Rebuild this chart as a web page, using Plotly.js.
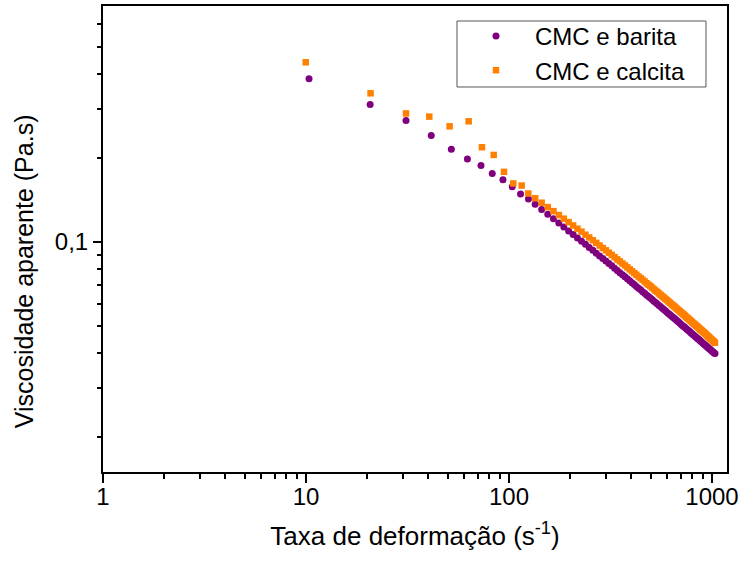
<!DOCTYPE html>
<html>
<head>
<meta charset="utf-8">
<script src="https://cdn.plot.ly/plotly-3.0.1.min.js"></script>
<style>html,body{margin:0;padding:0;background:#fff;}#chart{width:743px;height:564px;}</style>
</head>
<body>
<div id="chart"></div>
<script>
// Shear rate (s^-1) for the first, well-separated points of each series
var xBaritaStart = [10.35, 20.7, 31.1, 41.4, 52.0, 62.4, 72.8, 82.7, 93.4, 103.8, 114.0, 124.7];
var xCalcitaStart = [9.97, 20.8, 31.1, 40.5, 51.0, 63.3, 73.6, 84.1, 94.5, 105.0, 115.5, 124.5];
// Shear rate for the dense part (shared by both series)
var xDense = [134.6, 144.9, 155.3, 165.6, 176.0, 186.3, 196.7, 207.0, 217.4, 227.7, 238.1, 248.4,
  258.8, 269.1, 279.5, 289.8, 300.2, 310.5, 320.9, 331.2, 341.6, 351.9, 362.3, 372.6, 383.0, 393.3,
  403.7, 414.0, 424.4, 434.7, 445.1, 455.4, 465.8, 476.1, 486.5, 496.8, 507.2, 517.5, 527.9, 538.2,
  548.6, 558.9, 569.3, 579.6, 590.0, 600.3, 610.7, 621.0, 631.4, 641.7, 652.1, 662.4, 672.8, 683.1,
  693.5, 703.8, 714.2, 724.5, 734.9, 745.2, 755.6, 765.9, 776.3, 786.6, 797.0, 807.3, 817.7, 828.0,
  838.4, 848.7, 859.1, 869.4, 879.8, 890.1, 900.5, 910.8, 921.2, 931.5, 941.9, 952.2, 962.6, 972.9,
  983.3, 993.6, 1004.0, 1014.3, 1024.7, 1035.0];

// Apparent viscosity (Pa.s)
var yBarita = [0.383, 0.310, 0.2715, 0.240, 0.2144, 0.198, 0.1877, 0.1757, 0.1668, 0.1574, 0.1483, 0.1422,
  0.1362, 0.1306, 0.1255, 0.1209, 0.1168, 0.1129, 0.1094, 0.1062, 0.1032, 0.1005, 0.0979, 0.0955,
  0.0932, 0.0910, 0.0890, 0.0871, 0.0853, 0.0836, 0.0820, 0.0804, 0.0790, 0.0775, 0.0762, 0.0749,
  0.0737, 0.0725, 0.0714, 0.0703, 0.0692, 0.0682, 0.0673, 0.0663, 0.0654, 0.0645, 0.0637, 0.0629,
  0.0621, 0.0613, 0.0606, 0.0599, 0.0592, 0.0585, 0.0578, 0.0572, 0.0566, 0.0560, 0.0554, 0.0548,
  0.0543, 0.0537, 0.0532, 0.0527, 0.0522, 0.0517, 0.0512, 0.0507, 0.0502, 0.0498, 0.0494, 0.0489,
  0.0485, 0.0481, 0.0477, 0.0473, 0.0469, 0.0465, 0.0462, 0.0458, 0.0454, 0.0451, 0.0448, 0.0444,
  0.0441, 0.0438, 0.0434, 0.0431, 0.0428, 0.0425, 0.0422, 0.0419, 0.0416, 0.0414, 0.0411, 0.0408,
  0.0405, 0.0403, 0.0400, 0.0398];
var yCalcita = [0.439, 0.340, 0.288, 0.2806, 0.259, 0.270, 0.218, 0.2046, 0.178, 0.1618, 0.1590, 0.1489,
  0.1432, 0.1380, 0.1331, 0.1288, 0.1247, 0.1210, 0.1176, 0.1144, 0.1114, 0.1087, 0.1060, 0.1036,
  0.1013, 0.0991, 0.0970, 0.0950, 0.0932, 0.0914, 0.0897, 0.0881, 0.0865, 0.0851, 0.0836, 0.0823,
  0.0810, 0.0797, 0.0785, 0.0773, 0.0762, 0.0751, 0.0741, 0.0731, 0.0721, 0.0711, 0.0702, 0.0694,
  0.0685, 0.0676, 0.0668, 0.0661, 0.0653, 0.0645, 0.0638, 0.0631, 0.0624, 0.0618, 0.0611, 0.0605,
  0.0598, 0.0592, 0.0587, 0.0581, 0.0575, 0.0570, 0.0564, 0.0559, 0.0554, 0.0549, 0.0544, 0.0539,
  0.0534, 0.0530, 0.0525, 0.0521, 0.0516, 0.0512, 0.0508, 0.0504, 0.0500, 0.0496, 0.0492, 0.0488,
  0.0484, 0.0481, 0.0477, 0.0474, 0.0470, 0.0467, 0.0463, 0.0460, 0.0457, 0.0453, 0.0450, 0.0447,
  0.0444, 0.0441, 0.0438, 0.0435];

var seriesNames = ['CMC e barita', 'CMC e calcita'];
var xTitle = 'Taxa de deformação (s<sup>-1</sup>)';
var yTitle = 'Viscosidade aparente (Pa.s)';

var FONT = 'Liberation Sans, Arial, sans-serif';
var X_RANGE = [0, 3.074];
var Y_RANGE = [-1.824, -0.156];

var traces = [
  {
    x: xBaritaStart.concat(xDense), y: yBarita, name: seriesNames[0],
    type: 'scatter', mode: 'markers',
    marker: {symbol: 'circle', size: 7, color: '#7F007F'}
  },
  {
    x: xCalcitaStart.concat(xDense), y: yCalcita, name: seriesNames[1],
    type: 'scatter', mode: 'markers',
    marker: {symbol: 'square', size: 6.5, color: '#FF8000'}
  }
];

var layout = {
  width: 743, height: 564,
  margin: {l: 103, r: 16, t: 6, b: 92, pad: 0},
  paper_bgcolor: '#ffffff', plot_bgcolor: '#ffffff',
  separators: ',.',
  font: {family: FONT, color: '#000', size: 24},
  showlegend: true,
  legend: {
    x: 0.5673, y: 0.983, xanchor: 'left', yanchor: 'top',
    bgcolor: 'rgba(0,0,0,0)', borderwidth: 0,
    font: {family: FONT, size: 24, color: '#000'},
    itemwidth: 68, tracegroupgap: 0
  },
  shapes: [
    {type: 'rect', xref: 'paper', yref: 'paper', layer: 'below',
     x0: 0.5673, x1: 0.9663, y0: 0.8262, y1: 0.9678,
     line: {color: '#555555', width: 1}, fillcolor: '#ffffff'}
  ],
  xaxis: {
    type: 'log', range: X_RANGE, autorange: false,
    tickmode: 'linear', tick0: 0, dtick: 1, exponentformat: 'none',
    ticks: 'outside', ticklen: 9, tickwidth: 2, tickcolor: '#000',
    ticklabelstandoff: -7,
    showline: true, linewidth: 2, linecolor: '#000', mirror: true,
    showgrid: false, zeroline: false,
    tickfont: {family: FONT, size: 24, color: '#000'},
    minor: {dtick: 'D1', ticks: 'outside', ticklen: 5, tickwidth: 2, tickcolor: '#000', showgrid: false},
    title: {text: xTitle, font: {family: FONT, size: 26, color: '#000'}, standoff: 18}
  },
  yaxis: {
    type: 'log', range: Y_RANGE, autorange: false,
    tickmode: 'linear', tick0: 0, dtick: 1, exponentformat: 'none',
    ticks: 'outside', ticklen: 8, tickwidth: 2, tickcolor: '#000',
    showline: true, linewidth: 2, linecolor: '#000', mirror: true,
    showgrid: false, zeroline: false,
    tickfont: {family: FONT, size: 24, color: '#000'},
    minor: {dtick: 'D1', ticks: 'outside', ticklen: 4, tickwidth: 2, tickcolor: '#000', showgrid: false}
  },
  annotations: [
    {
      text: yTitle, xref: 'paper', yref: 'paper',
      x: -0.1266, y: 0.431, xanchor: 'center', yanchor: 'middle',
      textangle: -90, showarrow: false,
      font: {family: FONT, size: 25, color: '#000'}
    }
  ]
};

Plotly.newPlot('chart', traces, layout, {displayModeBar: false, staticPlot: true});
</script>
</body>
</html>
